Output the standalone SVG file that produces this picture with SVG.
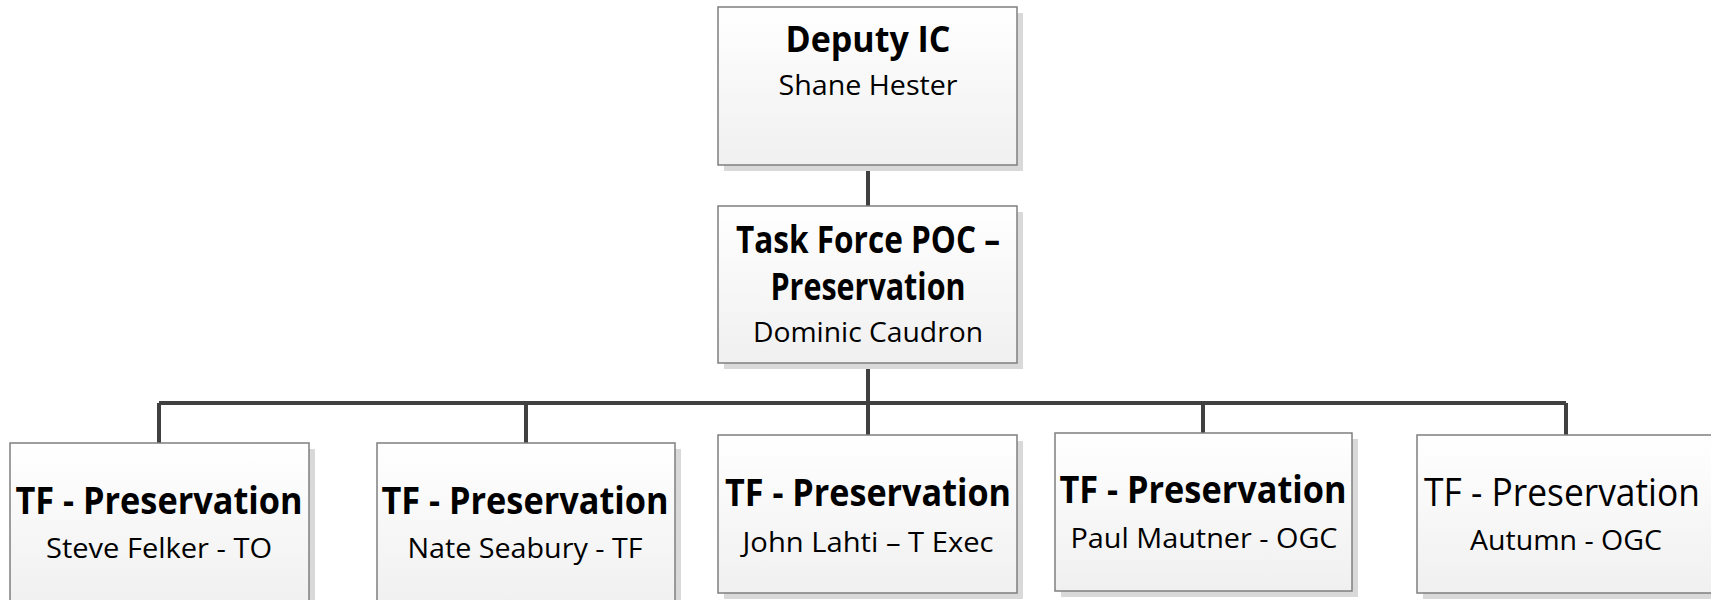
<svg xmlns="http://www.w3.org/2000/svg" width="1711" height="600" viewBox="0 0 1711 600">
<style>
.box{fill:url(#g);stroke:#7f7f7f;stroke-width:1.5}
.sh{fill:#d9d9d9}
.t{font-family:"Open Sans","Noto Sans","Liberation Sans",sans-serif;fill:#000;text-anchor:middle}
.b{font-weight:bold}
.big{font-size:38px}
.sm{font-size:28px}
.conn{stroke:#404040;stroke-width:4;fill:none}
</style>
<defs>
<linearGradient id="g" x1="0" y1="0" x2="0" y2="1">
<stop offset="0" stop-color="#ffffff"/>
<stop offset="1" stop-color="#f0f0f0"/>
</linearGradient>
</defs>
<rect width="1711" height="600" fill="#fff"/>
<g id="connectors">
<path class="conn" d="M868 165V206M868 363V403M159 403H1566M159 403V443M526 403V443M868 403V435M1203 403V433M1566 403V435"/>
</g>
<g id="deputy">
<rect class="sh" x="724" y="13" width="299" height="158"/>
<rect class="box" x="718" y="7" width="299" height="158"/>
<text class="t b" x="868" y="52" font-size="36" textLength="165" lengthAdjust="spacingAndGlyphs">Deputy IC</text>
<text class="t sm" x="868" y="95" textLength="179" lengthAdjust="spacingAndGlyphs">Shane Hester</text>
</g>
<g id="taskforce">
<rect class="sh" x="724" y="212" width="299" height="157"/>
<rect class="box" x="718" y="206" width="299" height="157"/>
<text class="t b big" x="868" y="253" textLength="264" lengthAdjust="spacingAndGlyphs">Task Force POC –</text>
<text class="t b big" x="868" y="300" textLength="195" lengthAdjust="spacingAndGlyphs">Preservation</text>
<text class="t sm" x="868" y="342" textLength="230" lengthAdjust="spacingAndGlyphs">Dominic Caudron</text>
</g>
<g id="tf1">
<rect class="sh" x="16" y="449" width="299" height="160"/>
<rect class="box" x="10" y="443" width="299" height="165"/>
<text class="t b big" x="159" y="514" textLength="287" lengthAdjust="spacingAndGlyphs">TF - Preservation</text>
<text class="t sm" x="159" y="558" textLength="226" lengthAdjust="spacingAndGlyphs">Steve Felker - TO</text>
</g>
<g id="tf2">
<rect class="sh" x="383" y="449" width="298" height="160"/>
<rect class="box" x="377" y="443" width="298" height="165"/>
<text class="t b big" x="525" y="514" textLength="287" lengthAdjust="spacingAndGlyphs">TF - Preservation</text>
<text class="t sm" x="525" y="558" textLength="235" lengthAdjust="spacingAndGlyphs">Nate Seabury - TF</text>
</g>
<g id="tf3">
<rect class="sh" x="724" y="441" width="299" height="158"/>
<rect class="box" x="718" y="435" width="299" height="158"/>
<text class="t b big" x="868" y="506" textLength="286" lengthAdjust="spacingAndGlyphs">TF - Preservation</text>
<text class="t sm" x="868" y="552" textLength="251" lengthAdjust="spacingAndGlyphs">John Lahti – T Exec</text>
</g>
<g id="tf4">
<rect class="sh" x="1061" y="439" width="297" height="158"/>
<rect class="box" x="1055" y="433" width="297" height="158"/>
<text class="t b big" x="1203" y="503" textLength="287" lengthAdjust="spacingAndGlyphs">TF - Preservation</text>
<text class="t sm" x="1204" y="548" textLength="267" lengthAdjust="spacingAndGlyphs">Paul Mautner - OGC</text>
</g>
<g id="tf5">
<rect class="sh" x="1423" y="441" width="298" height="158"/>
<rect class="box" x="1417" y="435" width="298" height="158"/>
<text class="t big" x="1562" y="506" textLength="276" lengthAdjust="spacingAndGlyphs">TF - Preservation</text>
<text class="t sm" x="1566" y="550" textLength="192" lengthAdjust="spacingAndGlyphs">Autumn - OGC</text>
</g>
</svg>
